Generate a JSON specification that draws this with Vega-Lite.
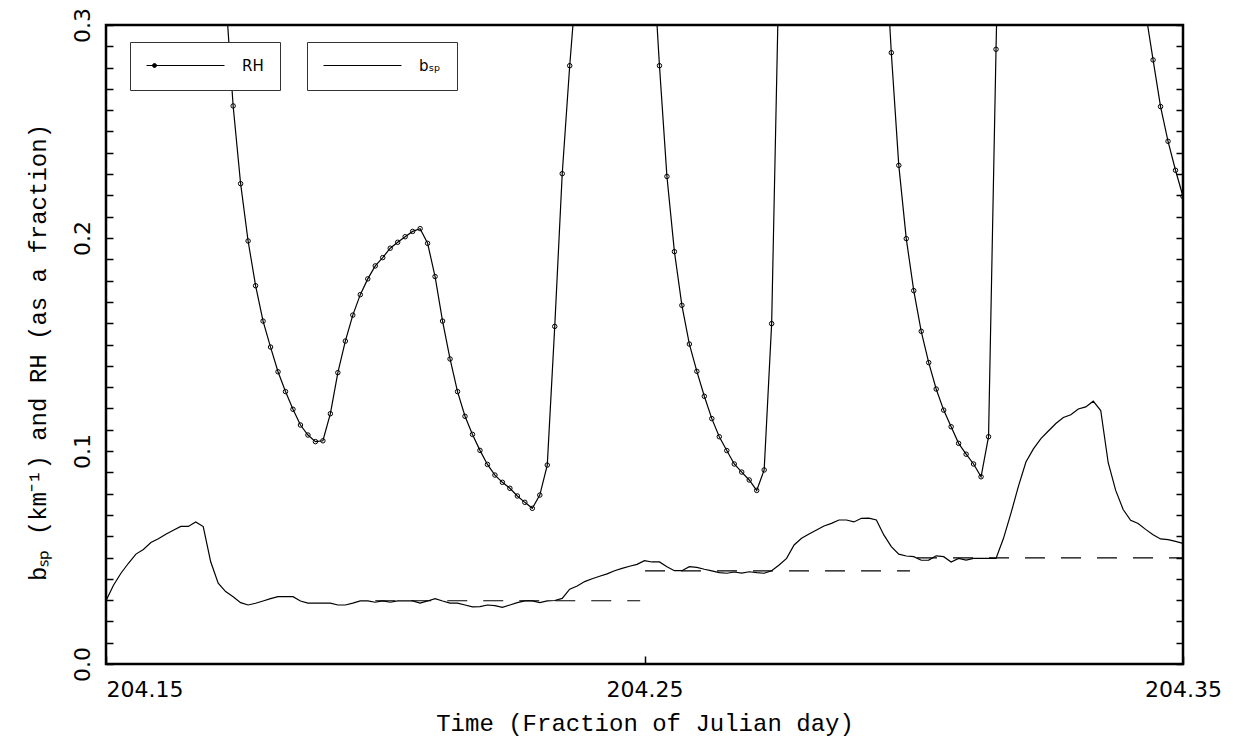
{
  "$schema": "https://vega.github.io/schema/vega-lite/v6.json",
  "autosize": "none",
  "width": 1077,
  "height": 639,
  "padding": {"left": 106, "top": 25, "right": 50, "bottom": 76},
  "background": "white",
  "config": {
    "view": {"stroke": "black", "strokeWidth": 2.5},
    "axis": {"grid": false, "domain": false, "labelFont": "DejaVu Sans", "titleFont": "Liberation Mono", "labelColor": "black", "titleColor": "black", "titleFontWeight": "normal", "tickColor": "black"}
  },
  "datasets": {
    "series": [
      {"t": 204.15, "rh": 0.52, "bsp": 0.0297},
      {"t": 204.151389, "rh": 0.52, "bsp": 0.037},
      {"t": 204.152778, "rh": 0.51, "bsp": 0.0426},
      {"t": 204.154167, "rh": 0.50, "bsp": 0.0473},
      {"t": 204.155556, "rh": 0.49, "bsp": 0.0516},
      {"t": 204.156944, "rh": 0.48, "bsp": 0.0538},
      {"t": 204.158333, "rh": 0.47, "bsp": 0.057},
      {"t": 204.159722, "rh": 0.46, "bsp": 0.0588},
      {"t": 204.161111, "rh": 0.45, "bsp": 0.0609},
      {"t": 204.1625, "rh": 0.44, "bsp": 0.0628},
      {"t": 204.163889, "rh": 0.43, "bsp": 0.0646},
      {"t": 204.165278, "rh": 0.42, "bsp": 0.0646},
      {"t": 204.166667, "rh": 0.40, "bsp": 0.0667},
      {"t": 204.168056, "rh": 0.38, "bsp": 0.0645},
      {"t": 204.169444, "rh": 0.36, "bsp": 0.048},
      {"t": 204.170833, "rh": 0.34, "bsp": 0.0379},
      {"t": 204.172222, "rh": 0.314, "bsp": 0.034},
      {"t": 204.173611, "rh": 0.262, "bsp": 0.0316},
      {"t": 204.175, "rh": 0.2255, "bsp": 0.0288},
      {"t": 204.176389, "rh": 0.1986, "bsp": 0.0277},
      {"t": 204.177778, "rh": 0.1776, "bsp": 0.0285},
      {"t": 204.179167, "rh": 0.161, "bsp": 0.0296},
      {"t": 204.180556, "rh": 0.1488, "bsp": 0.0307},
      {"t": 204.181944, "rh": 0.1372, "bsp": 0.0316},
      {"t": 204.183333, "rh": 0.1279, "bsp": 0.0316},
      {"t": 204.184722, "rh": 0.1196, "bsp": 0.0316},
      {"t": 204.186111, "rh": 0.1122, "bsp": 0.0296},
      {"t": 204.1875, "rh": 0.1075, "bsp": 0.0286},
      {"t": 204.188889, "rh": 0.1044, "bsp": 0.0286},
      {"t": 204.190278, "rh": 0.1048, "bsp": 0.0286},
      {"t": 204.191667, "rh": 0.1175, "bsp": 0.0286},
      {"t": 204.193056, "rh": 0.1368, "bsp": 0.0277},
      {"t": 204.194444, "rh": 0.1516, "bsp": 0.0277},
      {"t": 204.195833, "rh": 0.1638, "bsp": 0.0286},
      {"t": 204.197222, "rh": 0.1734, "bsp": 0.0296},
      {"t": 204.198611, "rh": 0.1808, "bsp": 0.0296},
      {"t": 204.2, "rh": 0.1869, "bsp": 0.029},
      {"t": 204.201389, "rh": 0.1908, "bsp": 0.0296},
      {"t": 204.202778, "rh": 0.1952, "bsp": 0.029},
      {"t": 204.204167, "rh": 0.198, "bsp": 0.0296},
      {"t": 204.205556, "rh": 0.2006, "bsp": 0.0296},
      {"t": 204.206944, "rh": 0.2031, "bsp": 0.0296},
      {"t": 204.208333, "rh": 0.2044, "bsp": 0.0286},
      {"t": 204.209722, "rh": 0.1975, "bsp": 0.0296},
      {"t": 204.211111, "rh": 0.1819, "bsp": 0.0307},
      {"t": 204.2125, "rh": 0.161, "bsp": 0.0296},
      {"t": 204.213889, "rh": 0.1432, "bsp": 0.0286},
      {"t": 204.215278, "rh": 0.1279, "bsp": 0.0286},
      {"t": 204.216667, "rh": 0.1163, "bsp": 0.0277},
      {"t": 204.218056, "rh": 0.1078, "bsp": 0.0268},
      {"t": 204.219444, "rh": 0.1003, "bsp": 0.0269},
      {"t": 204.220833, "rh": 0.0937, "bsp": 0.0277},
      {"t": 204.222222, "rh": 0.0887, "bsp": 0.0274},
      {"t": 204.223611, "rh": 0.0853, "bsp": 0.0266},
      {"t": 204.225, "rh": 0.0825, "bsp": 0.0277},
      {"t": 204.226389, "rh": 0.0789, "bsp": 0.0288},
      {"t": 204.227778, "rh": 0.0759, "bsp": 0.0296},
      {"t": 204.229167, "rh": 0.0731, "bsp": 0.0296},
      {"t": 204.230556, "rh": 0.0793, "bsp": 0.0288},
      {"t": 204.231944, "rh": 0.0934, "bsp": 0.0296},
      {"t": 204.233333, "rh": 0.1585, "bsp": 0.0298},
      {"t": 204.234722, "rh": 0.2302, "bsp": 0.0308},
      {"t": 204.236111, "rh": 0.2809, "bsp": 0.0351},
      {"t": 204.2375, "rh": 0.325, "bsp": 0.0366},
      {"t": 204.238889, "rh": 0.37, "bsp": 0.0387},
      {"t": 204.240278, "rh": 0.40, "bsp": 0.04},
      {"t": 204.241667, "rh": 0.42, "bsp": 0.0412},
      {"t": 204.243056, "rh": 0.43, "bsp": 0.0423},
      {"t": 204.244444, "rh": 0.43, "bsp": 0.0438},
      {"t": 204.245833, "rh": 0.42, "bsp": 0.0449},
      {"t": 204.247222, "rh": 0.40, "bsp": 0.0459},
      {"t": 204.248611, "rh": 0.38, "bsp": 0.0468},
      {"t": 204.25, "rh": 0.36, "bsp": 0.0485},
      {"t": 204.251389, "rh": 0.34, "bsp": 0.0479},
      {"t": 204.252778, "rh": 0.2809, "bsp": 0.0479},
      {"t": 204.254167, "rh": 0.2289, "bsp": 0.0457},
      {"t": 204.255556, "rh": 0.1936, "bsp": 0.0438},
      {"t": 204.256944, "rh": 0.1684, "bsp": 0.0438},
      {"t": 204.258333, "rh": 0.1502, "bsp": 0.0457},
      {"t": 204.259722, "rh": 0.1374, "bsp": 0.0454},
      {"t": 204.261111, "rh": 0.1257, "bsp": 0.0445},
      {"t": 204.2625, "rh": 0.1152, "bsp": 0.0437},
      {"t": 204.263889, "rh": 0.1067, "bsp": 0.0429},
      {"t": 204.265278, "rh": 0.1002, "bsp": 0.0426},
      {"t": 204.266667, "rh": 0.0939, "bsp": 0.0432},
      {"t": 204.268056, "rh": 0.0901, "bsp": 0.0427},
      {"t": 204.269444, "rh": 0.0864, "bsp": 0.0433},
      {"t": 204.270833, "rh": 0.0815, "bsp": 0.0429},
      {"t": 204.272222, "rh": 0.0911, "bsp": 0.0426},
      {"t": 204.273611, "rh": 0.1598, "bsp": 0.0438},
      {"t": 204.275, "rh": 0.33, "bsp": 0.0465},
      {"t": 204.276389, "rh": 0.38, "bsp": 0.0496},
      {"t": 204.277778, "rh": 0.42, "bsp": 0.0559},
      {"t": 204.279167, "rh": 0.45, "bsp": 0.059},
      {"t": 204.280556, "rh": 0.47, "bsp": 0.061},
      {"t": 204.281944, "rh": 0.48, "bsp": 0.0629},
      {"t": 204.283333, "rh": 0.48, "bsp": 0.0648},
      {"t": 204.284722, "rh": 0.47, "bsp": 0.066},
      {"t": 204.286111, "rh": 0.46, "bsp": 0.0676},
      {"t": 204.2875, "rh": 0.44, "bsp": 0.0676},
      {"t": 204.288889, "rh": 0.42, "bsp": 0.0667},
      {"t": 204.290278, "rh": 0.40, "bsp": 0.0684},
      {"t": 204.291667, "rh": 0.38, "bsp": 0.0685},
      {"t": 204.293056, "rh": 0.36, "bsp": 0.0676},
      {"t": 204.294444, "rh": 0.35, "bsp": 0.0606},
      {"t": 204.295833, "rh": 0.287, "bsp": 0.0551},
      {"t": 204.297222, "rh": 0.2341, "bsp": 0.0516},
      {"t": 204.298611, "rh": 0.1997, "bsp": 0.0507},
      {"t": 204.3, "rh": 0.1753, "bsp": 0.0504},
      {"t": 204.301389, "rh": 0.1562, "bsp": 0.0487},
      {"t": 204.302778, "rh": 0.1415, "bsp": 0.0488},
      {"t": 204.304167, "rh": 0.1291, "bsp": 0.0508},
      {"t": 204.305556, "rh": 0.1192, "bsp": 0.0504},
      {"t": 204.306944, "rh": 0.1114, "bsp": 0.0479},
      {"t": 204.308333, "rh": 0.1036, "bsp": 0.0496},
      {"t": 204.309722, "rh": 0.0985, "bsp": 0.0488},
      {"t": 204.311111, "rh": 0.0939, "bsp": 0.0496},
      {"t": 204.3125, "rh": 0.0879, "bsp": 0.0496},
      {"t": 204.313889, "rh": 0.1067, "bsp": 0.0496},
      {"t": 204.315278, "rh": 0.2886, "bsp": 0.0496},
      {"t": 204.316667, "rh": 0.45, "bsp": 0.059},
      {"t": 204.318056, "rh": 0.52, "bsp": 0.0708},
      {"t": 204.319444, "rh": 0.56, "bsp": 0.0835},
      {"t": 204.320833, "rh": 0.58, "bsp": 0.0948},
      {"t": 204.322222, "rh": 0.6, "bsp": 0.101},
      {"t": 204.323611, "rh": 0.6, "bsp": 0.1058},
      {"t": 204.325, "rh": 0.6, "bsp": 0.1094},
      {"t": 204.326389, "rh": 0.59, "bsp": 0.1129},
      {"t": 204.327778, "rh": 0.58, "bsp": 0.1157},
      {"t": 204.329167, "rh": 0.56, "bsp": 0.117},
      {"t": 204.330556, "rh": 0.54, "bsp": 0.1197},
      {"t": 204.331944, "rh": 0.51, "bsp": 0.1207},
      {"t": 204.333333, "rh": 0.48, "bsp": 0.1234},
      {"t": 204.334722, "rh": 0.45, "bsp": 0.119},
      {"t": 204.336111, "rh": 0.42, "bsp": 0.0945},
      {"t": 204.3375, "rh": 0.39, "bsp": 0.0815},
      {"t": 204.338889, "rh": 0.36, "bsp": 0.0725},
      {"t": 204.340278, "rh": 0.34, "bsp": 0.0675},
      {"t": 204.341667, "rh": 0.32, "bsp": 0.066},
      {"t": 204.343056, "rh": 0.306, "bsp": 0.0632},
      {"t": 204.344444, "rh": 0.2836, "bsp": 0.0607},
      {"t": 204.345833, "rh": 0.2617, "bsp": 0.0587},
      {"t": 204.347222, "rh": 0.2454, "bsp": 0.0584},
      {"t": 204.348611, "rh": 0.2318, "bsp": 0.0576},
      {"t": 204.35, "rh": 0.2195, "bsp": 0.0566}
    ],
    "mean": [
      {"t": 204.2, "t2": 204.2492, "v": 0.0297},
      {"t": 204.2501, "t2": 204.2993, "v": 0.0437},
      {"t": 204.3006, "t2": 204.35, "v": 0.0498}
    ]
  },
  "resolve": {
    "scale": {"color": "independent"},
    "legend": {"color": "independent"},
    "axis": {"y": "independent"}
  },
  "layer": [
    {
      "data": {"name": "series"},
      "mark": {"type": "line", "clip": true, "strokeWidth": 1.2},
      "encoding": {
        "x": {"field": "t", "type": "quantitative", "scale": {"domain": [204.15, 204.35], "nice": false, "zero": false},
          "axis": {"orient": "bottom", "values": [204.15, 204.25, 204.35], "format": ".2f", "tickSize": -8, "tickWidth": 1.5,
            "labelPadding": 23, "labelFontSize": 22, "labelFlush": false,
            "labelAlign": {"condition": {"test": "datum.value < 204.2", "value": "left"}, "value": "center"},
            "title": "Time (Fraction of Julian day)", "titleFontSize": 24, "titleY": 59, "titleBaseline": "middle"}},
        "y": {"field": "rh", "type": "quantitative", "scale": {"domain": [0, 0.3], "nice": false, "zero": false},
          "axis": {"orient": "left", "values": [0, 0.01, 0.02, 0.03, 0.04, 0.05, 0.06, 0.07, 0.08, 0.09, 0.1, 0.11, 0.12, 0.13, 0.14, 0.15, 0.16, 0.17, 0.18, 0.19, 0.2, 0.21, 0.22, 0.23, 0.24, 0.25, 0.26, 0.27, 0.28, 0.29, 0.3],
            "labelExpr": "round(datum.value*100) % 10 === 0 ? format(datum.value, '.1f') : ''",
            "tickSize": -7, "tickWidth": 1.5, "labelAngle": -90, "labelAlign": "center", "labelBaseline": "bottom",
            "labelPadding": 19, "labelFontSize": 22,
            "title": "bₛₚ (km⁻¹) and RH (as a fraction)", "titleFontSize": 24, "titleAngle": -90,
            "titleX": -68, "titleY": 327, "titleBaseline": "middle", "titleAlign": "center"}},
        "color": {"datum": "RH", "scale": {"range": ["black"]},
          "legend": {"orient": "none", "legendX": 24, "legendY": 17, "title": null,
            "symbolType": "M-1,0H10.143M-0.143,0a0.286,0.286 0 1,0 0.572,0a0.286,0.286 0 1,0 -0.572,0",
            "symbolSize": 196, "symbolStrokeWidth": 1, "symbolStrokeColor": "black", "symbolFillColor": "black",
            "labelFont": "DejaVu Sans", "labelFontSize": 15, "labelColor": "black", "labelOffset": 81,
            "padding": 16, "strokeColor": "#333", "fillColor": "white"}}
      }
    },
    {
      "data": {"name": "series"},
      "mark": {"type": "point", "shape": "circle", "size": 20, "filled": false, "stroke": "black", "strokeWidth": 1, "opacity": 1, "clip": true},
      "encoding": {
        "x": {"field": "t", "type": "quantitative", "scale": {"domain": [204.15, 204.35], "nice": false, "zero": false}},
        "y": {"field": "rh", "type": "quantitative", "scale": {"domain": [0, 0.3], "nice": false, "zero": false}, "axis": null}
      }
    },
    {
      "data": {"name": "series"},
      "mark": {"type": "line", "clip": true, "strokeWidth": 1.2},
      "encoding": {
        "x": {"field": "t", "type": "quantitative", "scale": {"domain": [204.15, 204.35], "nice": false, "zero": false}},
        "y": {"field": "bsp", "type": "quantitative", "scale": {"domain": [0, 0.3], "nice": false, "zero": false},
          "axis": {"orient": "right", "values": [0, 0.01, 0.02, 0.03, 0.04, 0.05, 0.06, 0.07, 0.08, 0.09, 0.1, 0.11, 0.12, 0.13, 0.14, 0.15, 0.16, 0.17, 0.18, 0.19, 0.2, 0.21, 0.22, 0.23, 0.24, 0.25, 0.26, 0.27, 0.28, 0.29, 0.3],
            "labels": false, "tickSize": -7, "tickWidth": 1.5, "title": null}},
        "color": {"datum": "bₛₚ", "scale": {"range": ["black"]},
          "legend": {"orient": "none", "legendX": 201, "legendY": 17, "title": null,
            "symbolType": "M-1,0H10.143", "symbolSize": 196, "symbolStrokeWidth": 1, "symbolStrokeColor": "black",
            "labelFont": "DejaVu Sans", "labelFontSize": 15, "labelColor": "black", "labelOffset": 81,
            "padding": 16, "strokeColor": "#333", "fillColor": "white"}}
      }
    },
    {
      "data": {"name": "mean"},
      "mark": {"type": "rule", "strokeDash": [20, 16], "strokeWidth": 1.2, "color": "black"},
      "encoding": {
        "x": {"field": "t", "type": "quantitative", "scale": {"domain": [204.15, 204.35], "nice": false, "zero": false}},
        "x2": {"field": "t2"},
        "y": {"field": "v", "type": "quantitative", "scale": {"domain": [0, 0.3], "nice": false, "zero": false}, "axis": null}
      }
    }
  ]
}
